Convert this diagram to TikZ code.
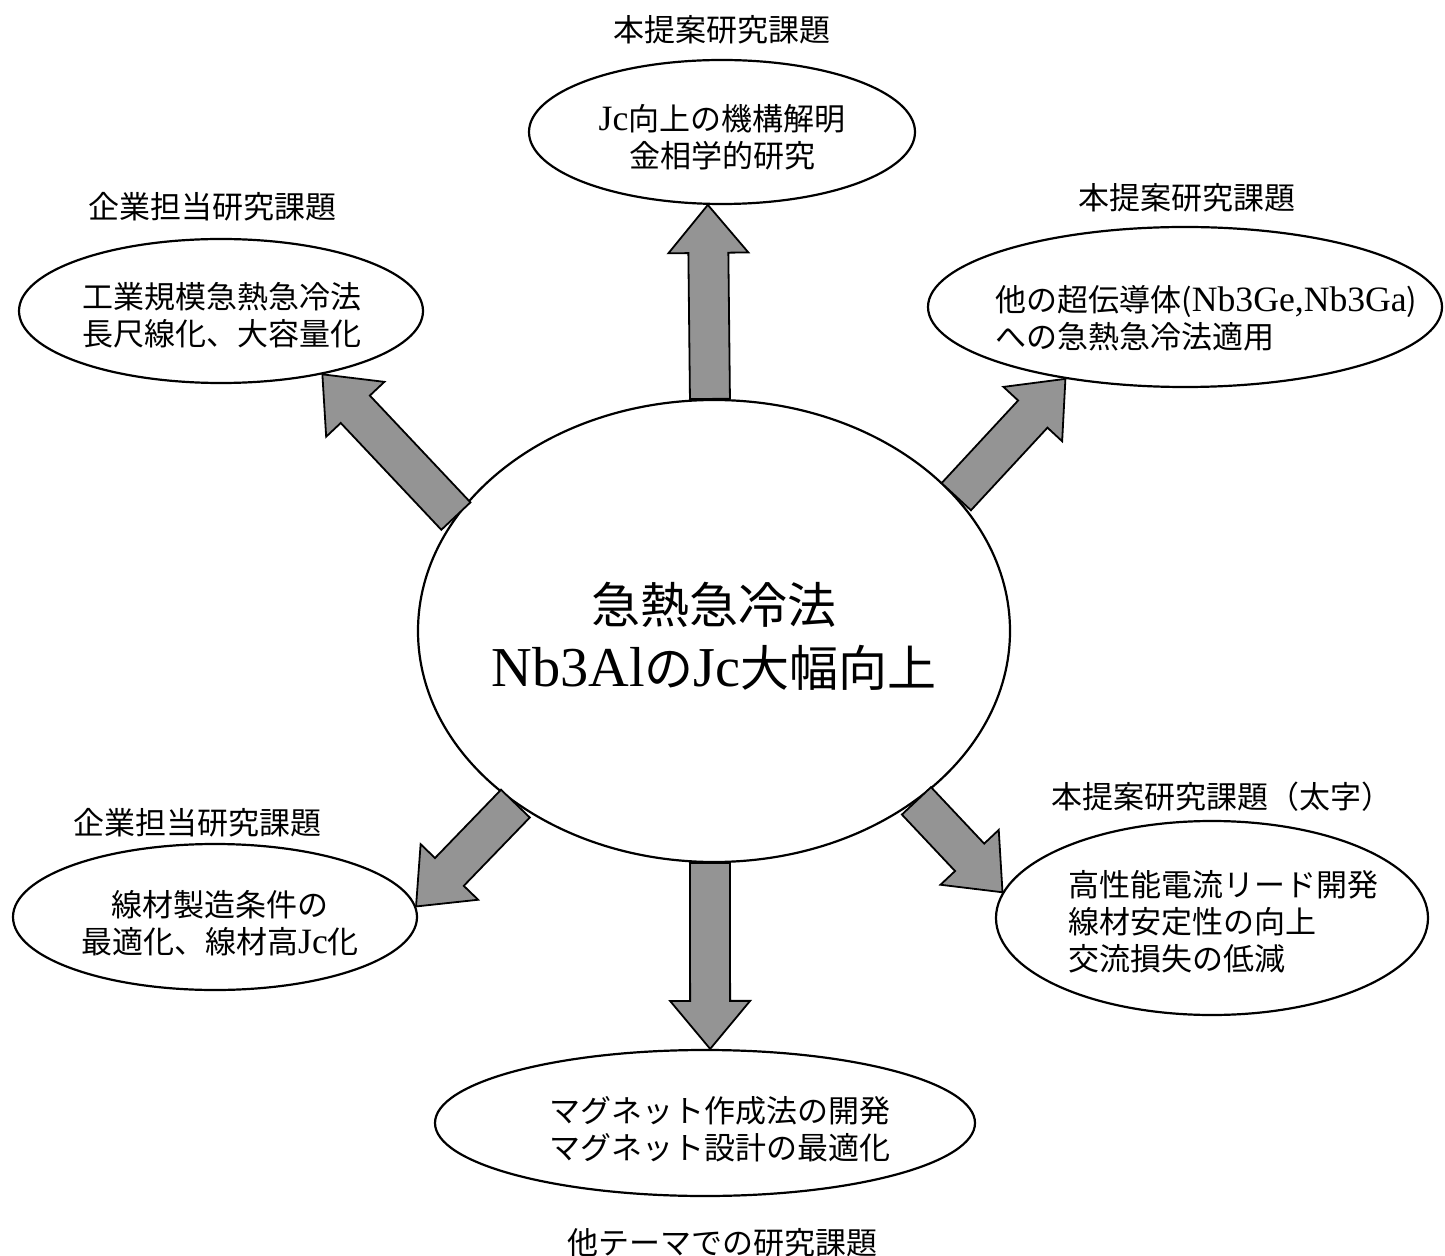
\documentclass[tikz,border=0pt]{standalone}
\usepackage{fontspec}
\setmainfont{Noto Sans CJK JP}
\newfontfamily\lat[Scale=1.15]{Liberation Serif}
\usetikzlibrary{shapes.geometric,calc}
\newcommand\blockarrow[2]{%
  \path (#2) coordinate (tipX) (#1) coordinate (tailX);
  \path ($(tipX)!24pt!(tailX)$) coordinate (headX);
  \draw[blockarr] ($(tailX)!10pt!90:(tipX)$) -- ($(headX)!10pt!90:(tipX)$)
    -- ($(headX)!20pt!90:(tipX)$) -- (tipX) -- ($(headX)!20pt!-90:(tipX)$)
    -- ($(headX)!10pt!-90:(tipX)$) -- ($(tailX)!10pt!-90:(tipX)$) -- cycle;}
\begin{document}
\begin{tikzpicture}[x=0.5pt,y=-0.5pt,
  bubble/.style={draw, ellipse, line width=1.1pt, inner sep=0pt},
  lbl/.style={font=\fontsize{15.5}{18.5}\selectfont, inner sep=0pt},
  txt/.style={font=\fontsize{15.5}{18.5}\selectfont, inner sep=0pt, align=center},
  blockarr/.style={draw, line width=0.9pt, fill=black!42, line join=miter}]
\fill[white] (0,0) rectangle (1445,1256);
\useasboundingbox (0,0) rectangle (1445,1256);

% ellipses
\node[bubble, minimum width=296pt, minimum height=231pt] (c) at (714,631) {};
\node[bubble, minimum width=193pt, minimum height=72pt] (t) at (722,132) {};
\node[bubble, minimum width=257pt, minimum height=80pt] (tr) at (1185,307) {};
\node[bubble, minimum width=202pt, minimum height=72pt] (tl) at (221,311) {};
\node[bubble, minimum width=202pt, minimum height=73pt] (bl) at (215,917) {};
\node[bubble, minimum width=216pt, minimum height=97pt] (br) at (1212,918) {};
\node[bubble, minimum width=270pt, minimum height=73pt] (b) at (705,1123) {};

% texts in ellipses
\node[font=\fontsize{24.5}{31.5}\selectfont, align=center, inner sep=0pt] (ctxt) at (714,636)
  {急熱急冷法\\{\lat Nb3Al}の{\lat Jc}大幅向上};
\node[txt] (ttxt) at (722,137) {{\lat Jc}向上の機構解明\\金相学的研究};
\node[txt, align=left, anchor=west] (trtxt) at (995,318) {他の超伝導体({\lat Nb3Ge,Nb3Ga})\\への急熱急冷法適用};
\node[txt] (tltxt) at (222,315) {工業規模急熱急冷法\\長尺線化、大容量化};
\node[txt] (bltxt) at (220,923) {線材製造条件の\\最適化、線材高{\lat Jc}化};
\node[txt, align=left, anchor=west] (brtxt) at (1068,922) {高性能電流リード開発\\線材安定性の向上\\交流損失の低減};
\node[txt] (btxt) at (720,1129) {マグネット作成法の開発\\マグネット設計の最適化};

% labels
\node[lbl] (tL) at (722,30) {本提案研究課題};
\node[lbl] (trL) at (1187,198) {本提案研究課題};
\node[lbl] (tlL) at (212,207) {企業担当研究課題};
\node[lbl] (brL) at (1222,797) {本提案研究課題（太字）};
\node[lbl] (blL) at (197,823) {企業担当研究課題};
\node[lbl] (bL) at (722,1243) {他テーマでの研究課題};

% block arrows
\blockarrow{c.91}{t.259}
\blockarrow{c.29}{tr.211}
\blockarrow{c.156}{tl.328}
\blockarrow{c.221}{bl.3}
\blockarrow{c.320}{br.173}
\blockarrow{c.269}{b.86}
\end{tikzpicture}
\end{document}
